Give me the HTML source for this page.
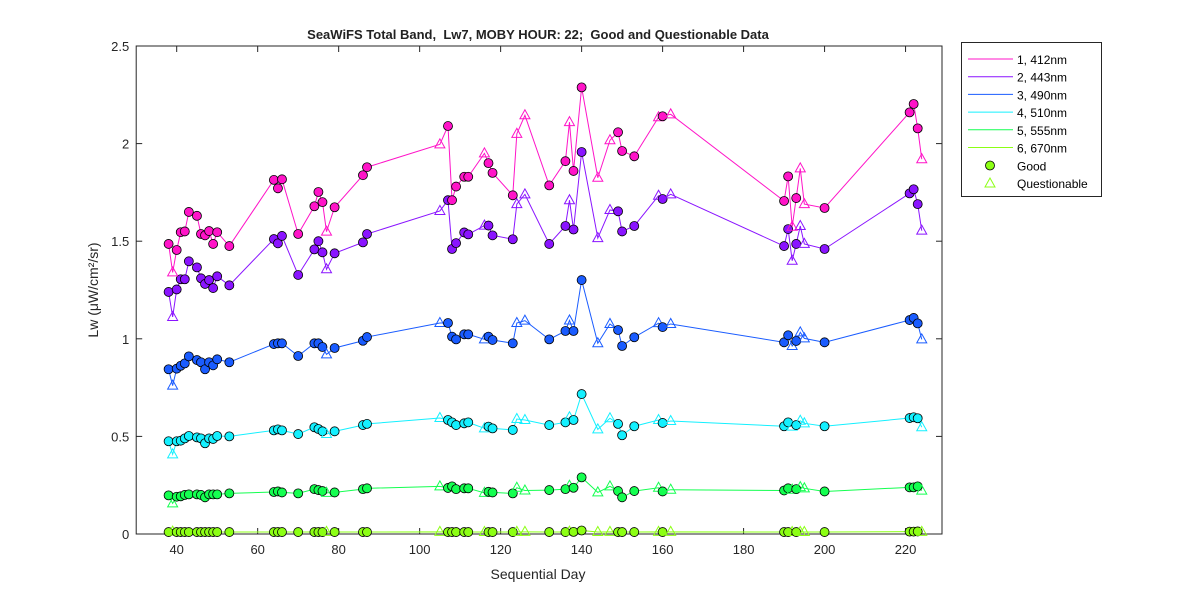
<!DOCTYPE html>
<html><head><meta charset="utf-8"><style>
body{margin:0;background:#fff;}
svg{display:block;font-family:"Liberation Sans",Arial,sans-serif;}
</style></head><body>
<svg id="chart" width="1200" height="600" xmlns="http://www.w3.org/2000/svg">
<rect width="1200" height="600" fill="#fff"/>
<text x="538" y="39" text-anchor="middle" font-size="13" font-weight="bold" fill="#222" style="white-space:pre">SeaWiFS Total Band,  Lw7, MOBY HOUR: 22;  Good and Questionable Data</text>
<g id="plot"></g>
<text x="538" y="579" text-anchor="middle" font-size="14" fill="#262626">Sequential Day</text>
<text transform="translate(98,290) rotate(-90)" text-anchor="middle" font-size="14" fill="#262626">Lw (μW/cm²/sr)</text>
<g id="legend"></g>
</svg>
<script>
const days=[38,39,40,41,42,43,45,46,47,48,49,50,53,64,65,66,70,74,75,76,77,79,86,87,105,107,108,109,111,112,116,117,118,123,124,126,132,136,137,138,140,144,147,149,150,153,159,160,162,190,191,192,193,194,195,200,221,222,223,224];
const quality=["G","Q","G","G","G","G","G","G","G","G","G","G","G","G","G","G","G","G","G","G","Q","G","G","G","Q","G","G","G","G","G","Q","G","G","G","Q","Q","G","G","Q","G","G","Q","Q","G","G","G","Q","G","Q","G","G","Q","G","Q","Q","G","G","G","G","Q"];
const band1=[1.486,1.34,1.455,1.546,1.55,1.65,1.63,1.537,1.53,1.552,1.486,1.546,1.475,1.814,1.771,1.817,1.537,1.679,1.752,1.70,1.549,1.674,1.838,1.879,1.996,2.09,1.71,1.78,1.83,1.83,1.95,1.90,1.85,1.735,2.05,2.145,1.786,1.91,2.11,1.86,2.288,1.825,2.017,2.058,1.962,1.935,2.135,2.14,2.15,1.706,1.832,1.574,1.721,1.873,1.69,1.67,2.16,2.203,2.078,1.92];
const band2=[1.24,1.112,1.253,1.305,1.305,1.397,1.366,1.31,1.281,1.301,1.26,1.32,1.274,1.511,1.489,1.527,1.327,1.458,1.5,1.443,1.356,1.438,1.494,1.537,1.655,1.71,1.46,1.49,1.545,1.535,1.58,1.58,1.53,1.51,1.69,1.74,1.486,1.578,1.71,1.56,1.957,1.516,1.66,1.653,1.55,1.578,1.733,1.716,1.74,1.475,1.562,1.40,1.486,1.578,1.486,1.46,1.745,1.766,1.69,1.554];
const band3=[0.844,0.76,0.847,0.862,0.874,0.91,0.891,0.88,0.844,0.88,0.864,0.895,0.88,0.973,0.977,0.977,0.912,0.977,0.977,0.958,0.92,0.953,0.99,1.009,1.081,1.081,1.011,0.997,1.023,1.023,0.997,1.011,0.994,0.977,1.081,1.093,0.997,1.04,1.094,1.04,1.301,0.977,1.076,1.045,0.963,1.008,1.08,1.06,1.076,0.982,1.018,0.963,0.989,1.033,1.002,0.982,1.096,1.107,1.079,0.997];
const band4=[0.475,0.408,0.475,0.478,0.49,0.502,0.495,0.49,0.465,0.49,0.487,0.502,0.5,0.531,0.536,0.531,0.512,0.547,0.538,0.526,0.512,0.526,0.558,0.564,0.594,0.584,0.572,0.558,0.567,0.572,0.541,0.55,0.541,0.533,0.589,0.584,0.558,0.572,0.598,0.584,0.717,0.536,0.593,0.564,0.506,0.552,0.584,0.569,0.579,0.552,0.572,0.55,0.558,0.58,0.567,0.552,0.594,0.598,0.593,0.547];
const band5=[0.198,0.157,0.191,0.193,0.2,0.203,0.203,0.2,0.188,0.203,0.203,0.203,0.208,0.215,0.218,0.213,0.208,0.23,0.225,0.22,0.211,0.213,0.23,0.234,0.244,0.236,0.244,0.23,0.234,0.234,0.211,0.216,0.213,0.208,0.237,0.223,0.225,0.23,0.247,0.237,0.29,0.213,0.244,0.22,0.188,0.22,0.237,0.218,0.227,0.223,0.234,0.227,0.23,0.24,0.234,0.218,0.239,0.239,0.244,0.222];
const band6=[0.01,0.012,0.01,0.01,0.01,0.01,0.01,0.01,0.01,0.01,0.01,0.01,0.01,0.01,0.01,0.01,0.01,0.01,0.01,0.01,0.011,0.01,0.01,0.01,0.011,0.01,0.01,0.01,0.01,0.01,0.01,0.01,0.01,0.01,0.011,0.011,0.01,0.01,0.012,0.011,0.018,0.01,0.011,0.01,0.01,0.01,0.011,0.01,0.011,0.01,0.01,0.01,0.01,0.01,0.01,0.01,0.012,0.012,0.013,0.011];
const bandNames=["1, 412nm","2, 443nm","3, 490nm","4, 510nm","5, 555nm","6, 670nm"];
const xTicks=[40,60,80,100,120,140,160,180,200,220];
const yTicks=[0,0.5,1,1.5,2,2.5];

const NS="http://www.w3.org/2000/svg";
const L=136.2,R=942,T=46,B=534,XMIN=30,XMAX=229,YMAX=2.5;
const xs=d=>L+(d-XMIN)*(R-L)/(XMAX-XMIN);
const ys=v=>B-v*(B-T)/YMAX;
const colors=["#ff14c8","#8a14ff","#1a5cff","#14f0ff","#14ff50","#8cff14"];
const plot=document.getElementById('plot');
function mk(tag,attrs,parent){const e=document.createElementNS(NS,tag);for(const k in attrs)e.setAttribute(k,attrs[k]);(parent||plot).appendChild(e);return e;}
const box=mk('rect',{x:L,y:T,width:R-L,height:B-T,fill:'#fff',stroke:'#262626','stroke-width':1});


xTicks.forEach(t=>{
  const x=xs(t);
  mk('line',{x1:x,y1:B,x2:x,y2:B-6,stroke:'#262626'});
  mk('line',{x1:x,y1:T,x2:x,y2:T+6,stroke:'#262626'});
  const tx=mk('text',{x:x,y:B+20,'text-anchor':'middle','font-size':13,fill:'#262626'});
  tx.textContent=t;
  
  
});
yTicks.forEach(t=>{
  const y=ys(t);
  mk('line',{x1:L,y1:y,x2:L+6,y2:y,stroke:'#262626'});
  mk('line',{x1:R,y1:y,x2:R-6,y2:y,stroke:'#262626'});
  const tx=mk('text',{x:L-7,y:y+5,'text-anchor':'end','font-size':13,fill:'#262626'});
  tx.textContent=t;
  
  
});
const bands=[band1,band2,band3,band4,band5,band6];
bands.slice().reverse().forEach((vals,ri)=>{
  const bi=5-ri;const c=colors[bi];
  const g=mk('g',{});
  
  
  mk('polyline',{points:days.map((d,i)=>xs(d)+','+ys(vals[i])).join(' '),fill:'none',stroke:c,'stroke-width':1},g);
  days.forEach((d,i)=>{
    const x=xs(d),y=ys(vals[i]);let m;
    if(quality[i]==='G'){m=mk('circle',{cx:x,cy:y,r:4.5,fill:c,stroke:'#000','stroke-width':0.8},g);}
    else{m=mk('polygon',{points:`${x},${y-5.5} ${x-5},${y+3.5} ${x+5},${y+3.5}`,fill:'none',stroke:c,'stroke-width':1},g);}
    
    
  });
});
const lg=document.getElementById('legend');
mk('rect',{x:961.5,y:42.5,width:140,height:154,fill:'#fff',stroke:'#262626'},lg);
bandNames.forEach((n,i)=>{
  const y=59+i*17.7;
  mk('line',{x1:968,y1:y,x2:1013,y2:y,stroke:colors[i]},lg);
  const t=mk('text',{x:1017,y:y+5,'font-size':12,fill:'#000'},lg);
  t.textContent=n;
  
  
});
mk('circle',{cx:990,cy:165.5,r:4.5,fill:'#8cff14',stroke:'#000','stroke-width':0.8},lg);
const tg=mk('text',{x:1017,y:170.5,'font-size':12,fill:'#000'},lg);tg.textContent='Good';


mk('polygon',{points:'990,178 985,187 995,187',fill:'none',stroke:'#8cff14'},lg);
const tq=mk('text',{x:1017,y:188,'font-size':12,fill:'#000'},lg);tq.textContent='Questionable';


</script>
</body></html>
